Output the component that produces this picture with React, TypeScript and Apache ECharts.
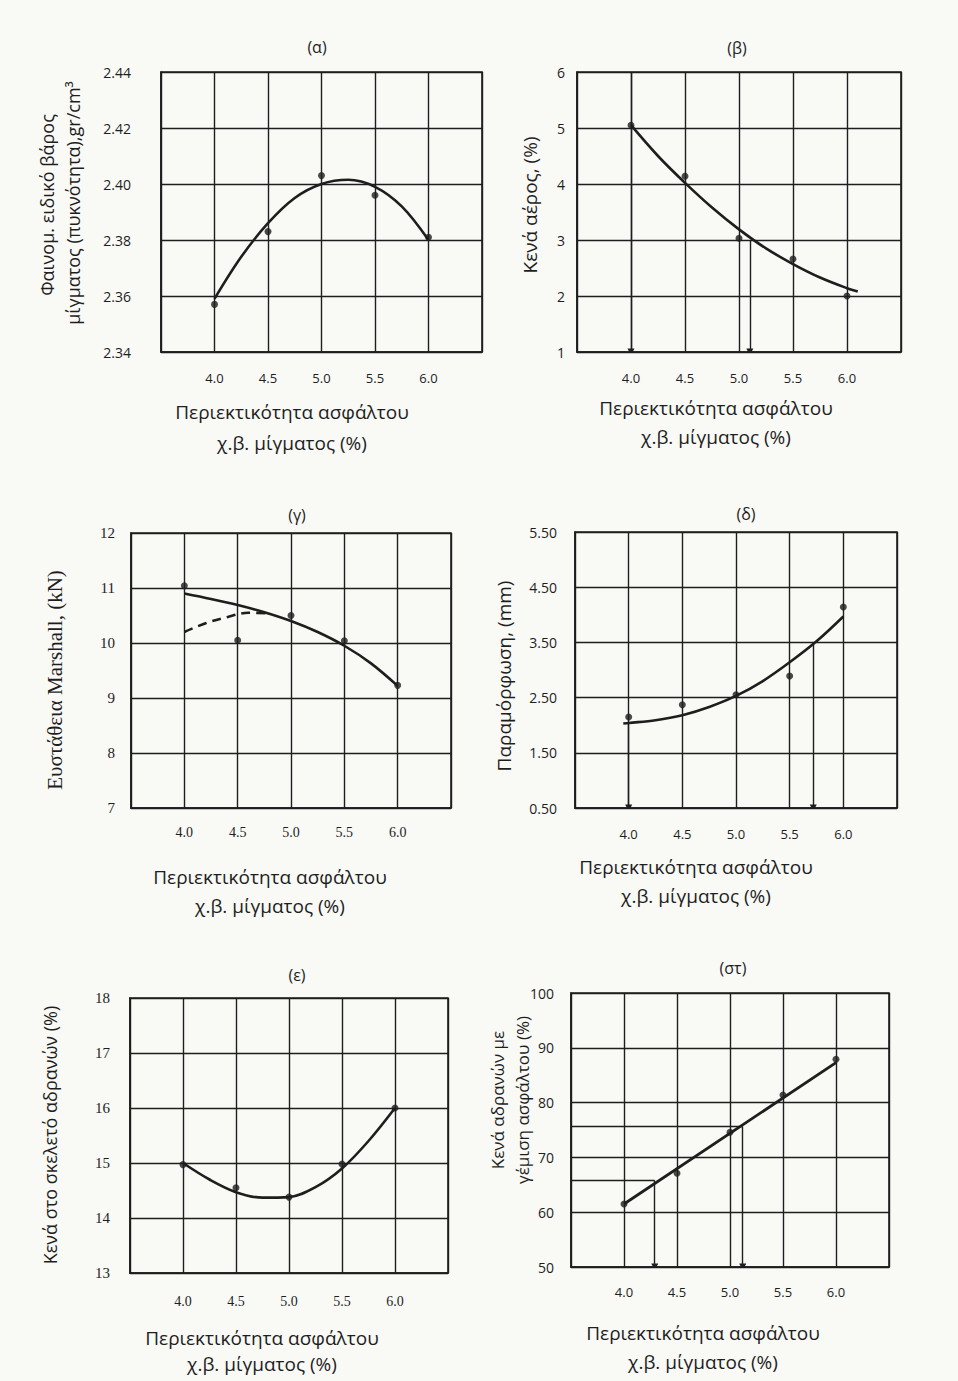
import React, { useEffect, useRef } from "react";
import * as echarts from "echarts";

// ---------- data ----------
const asphaltContent = [4.0, 4.5, 5.0, 5.5, 6.0];

// (α) bulk specific gravity
const densityMeasured = [2.357, 2.383, 2.403, 2.396, 2.381];
const densityCurveX = [4.0, 4.25, 4.5, 4.75, 5.0, 5.25, 5.5, 5.75, 6.0];
const densityCurveY = [2.359, 2.374, 2.386, 2.395, 2.4, 2.4015, 2.399, 2.392, 2.38];

// (β) air voids
const airVoidsMeasured = [5.05, 4.14, 3.03, 2.66, 2.0];
const airVoidsCurveX = [4.0, 4.25, 4.5, 4.75, 5.0, 5.25, 5.5, 5.75, 6.0, 6.1];
const airVoidsCurveY = [5.05, 4.5, 4.02, 3.58, 3.19, 2.85, 2.57, 2.33, 2.14, 2.08];
const airVoidsArrows = [
  [4.0, 6.0, 4.0, 1.0],
  [5.1, 3.0, 5.1, 1.0],
];

// (γ) Marshall stability
const stabilityMeasured = [11.04, 10.05, 10.5, 10.04, 9.23];
const stabilityCurveX = [4.0, 4.25, 4.5, 4.75, 5.0, 5.25, 5.5, 5.75, 6.0];
const stabilityCurveY = [10.9, 10.8, 10.69, 10.56, 10.4, 10.2, 9.95, 9.63, 9.22];
const stabilityDashedX = [4.0, 4.2, 4.4, 4.6, 4.8];
const stabilityDashedY = [10.2, 10.36, 10.47, 10.55, 10.54];

// (δ) flow
const flowMeasured = [2.15, 2.37, 2.55, 2.89, 4.14];
const flowCurveX = [3.95, 4.0, 4.25, 4.5, 4.75, 5.0, 5.25, 5.5, 5.75, 6.0];
const flowCurveY = [2.03, 2.04, 2.09, 2.18, 2.33, 2.53, 2.8, 3.14, 3.52, 3.97];
const flowArrows = [
  [4.0, 2.04, 4.0, 0.5],
  [5.72, 3.5, 5.72, 0.5],
];

// (ε) VMA
const vmaMeasured = [14.97, 14.55, 14.38, 14.98, 16.0];
const vmaCurveX = [4.0, 4.25, 4.5, 4.75, 5.0, 5.25, 5.5, 5.75, 6.0];
const vmaCurveY = [15.0, 14.7, 14.47, 14.37, 14.38, 14.56, 14.9, 15.4, 16.0];

// (στ) VFA
const vfaMeasured = [61.5, 67.1, 74.6, 81.4, 87.9];
const vfaLineX = [4.0, 6.0];
const vfaLineY = [61.5, 87.3];
const vfaArrows = [
  [4.29, 65.8, 4.29, 50],
  [5.12, 75.6, 5.12, 50],
];
const vfaGuides = [
  [3.5, 65.8, 4.29, 65.8],
  [3.5, 75.6, 5.12, 75.6],
];

// y axes
const yRanges = [
  { min: 2.34, max: 2.44, interval: 0.02, dec: 2 },
  { min: 1, max: 6, interval: 1, dec: 0 },
  { min: 7, max: 12, interval: 1, dec: 0 },
  { min: 0.5, max: 5.5, interval: 0.5, dec: 2 },
  { min: 13, max: 18, interval: 1, dec: 0 },
  { min: 50, max: 100, interval: 10, dec: 0 },
];

const titles = ["(α)", "(β)", "(γ)", "(δ)", "(ε)", "(στ)"];
const xName1 = "Περιεκτικότητα ασφάλτου";
const xName2 = "χ.β. μίγματος (%)";

// ---------- layout ----------
const INK = "#1e1e1e";
const SANS = "'Open Sans', 'Noto Sans', sans-serif";
const SERIF = "'Liberation Serif', 'DejaVu Serif', serif";

const grids = [
  { left: 161, top: 72, width: 321, height: 280 },
  { left: 577, top: 72, width: 324, height: 280 },
  { left: 131, top: 533, width: 320, height: 275 },
  { left: 575, top: 532, width: 322, height: 276 },
  { left: 130, top: 998, width: 318, height: 275 },
  { left: 571, top: 993, width: 318, height: 274 },
];
const tickFonts = [SANS, SANS, SERIF, SANS, SERIF, SANS];
const tickSizes = [13, 13, 14, 13, 14, 13];
const yLabelMargins = [30, 12, 16, 18, 20, 17];
const xLabelMargins = [19, 19, 17, 19, 21, 18];

const zip = (xs: number[], ys: number[]) => xs.map((x, i) => [x, ys[i]]);

function App() {
  const ref = useRef<HTMLDivElement>(null);
  useEffect(() => {
    if (!ref.current) return;
    const chart = echarts.init(ref.current, null, { renderer: "svg" });

    const xAxes = grids.map((_, i) => ({
      type: "value",
      gridIndex: i,
      min: 3.5,
      max: 6.5,
      interval: 0.5,
      axisLine: { show: true, lineStyle: { color: INK, width: 1.6 } },
      axisTick: { show: false },
      splitLine: { show: true, lineStyle: { color: INK, width: 1.4 } },
      axisLabel: {
        margin: xLabelMargins[i],
        fontFamily: tickFonts[i],
        fontSize: tickSizes[i],
        color: INK,
        formatter: (v: number) =>
          asphaltContent.some((a) => Math.abs(a - v) < 1e-6) ? v.toFixed(1) : "",
      },
    }));

    const yAxes = yRanges.map((r, i) => ({
      type: "value",
      gridIndex: i,
      min: r.min,
      max: r.max,
      interval: r.interval,
      axisLine: { show: true, lineStyle: { color: INK, width: 1.6 } },
      axisTick: { show: false },
      splitLine: {
        show: true,
        lineStyle: {
          color: i === 3 ? [INK, "rgba(0,0,0,0)"] : INK,
          width: 1.4,
        },
      },
      axisLabel: {
        margin: yLabelMargins[i],
        fontFamily: tickFonts[i],
        fontSize: tickSizes[i] + 1,
        color: INK,
        formatter: (v: number) => {
          if (i === 3) {
            const f = v - Math.floor(v);
            return Math.abs(f - 0.5) < 1e-6 ? v.toFixed(2) : "";
          }
          return v.toFixed(r.dec);
        },
      },
    }));

    const curve = (idx: number, data: number[][], dashed = false) => ({
      type: "line",
      xAxisIndex: idx,
      yAxisIndex: idx,
      data,
      smooth: 0.35,
      showSymbol: false,
      symbol: "none",
      lineStyle: { color: INK, width: 2.6, type: dashed ? [9, 6] : "solid" },
      z: 5,
    });
    const points = (idx: number, ys: number[]) => ({
      type: "scatter",
      xAxisIndex: idx,
      yAxisIndex: idx,
      data: zip(asphaltContent, ys),
      symbolSize: 7,
      itemStyle: { color: INK },
      z: 6,
    });
    const segs = (idx: number, list: number[][], arrow: boolean) => ({
      type: "lines",
      coordinateSystem: "cartesian2d",
      xAxisIndex: idx,
      yAxisIndex: idx,
      symbol: arrow ? ["none", "triangle"] : ["none", "none"],
      symbolSize: arrow ? 7 : 0,
      lineStyle: { color: INK, width: 1.4, opacity: 1, curveness: 0 },
      data: list.map((s) => ({ coords: [[s[0], s[1]], [s[2], s[3]]] })),
      z: 4,
    });

    const series: any[] = [
      curve(0, zip(densityCurveX, densityCurveY)),
      points(0, densityMeasured),
      curve(1, zip(airVoidsCurveX, airVoidsCurveY)),
      points(1, airVoidsMeasured),
      segs(1, airVoidsArrows, true),
      curve(2, zip(stabilityCurveX, stabilityCurveY)),
      curve(2, zip(stabilityDashedX, stabilityDashedY), true),
      points(2, stabilityMeasured),
      curve(3, zip(flowCurveX, flowCurveY)),
      points(3, flowMeasured),
      segs(3, flowArrows, true),
      curve(4, zip(vmaCurveX, vmaCurveY)),
      points(4, vmaMeasured),
      {
        type: "line",
        xAxisIndex: 5,
        yAxisIndex: 5,
        data: zip(vfaLineX, vfaLineY),
        showSymbol: false,
        symbol: "none",
        lineStyle: { color: INK, width: 2.8 },
        z: 5,
      },
      points(5, vfaMeasured),
      segs(5, vfaArrows, true),
      segs(5, vfaGuides, false),
    ];

    const txt = (
      x: number,
      y: number,
      text: string,
      size: number,
      font: string,
      rotate = false
    ) => ({
      type: "text",
      x,
      y,
      rotation: rotate ? Math.PI / 2 : 0,
      style: {
        text,
        fill: INK,
        fontSize: size,
        fontFamily: font,
        align: "center",
        verticalAlign: "middle",
      },
    });

    const titlePos = [
      [317, 47],
      [737, 48],
      [297, 515],
      [746, 514],
      [297, 975],
      [733, 968],
    ];
    const xNamePos = [
      [292, 412, 443],
      [716, 408, 437],
      [270, 877, 906],
      [696, 867, 896],
      [262, 1338, 1364],
      [703, 1333, 1362],
    ];

    const graphic: any[] = [];
    titles.forEach((t, i) =>
      graphic.push(txt(titlePos[i][0], titlePos[i][1], t, 16, SANS))
    );
    xNamePos.forEach((p) => {
      graphic.push(txt(p[0], p[1], xName1, 19, SANS));
      graphic.push(txt(p[0], p[2], xName2, 19, SANS));
    });
    // y names (rotated, reading bottom to top)
    graphic.push(txt(47, 205, "Φαινομ. ειδικό βάρος", 18, SANS, true));
    graphic.push(txt(73, 203, "μίγματος (πυκνότητα),gr/cm³", 18, SANS, true));
    graphic.push(txt(530, 205, "Κενά αέρος, (%)", 19, SANS, true));
    graphic.push(txt(55, 680, "Ευστάθεια Marshall, (kN)", 21, SERIF, true));
    graphic.push(txt(504, 676, "Παραμόρφωση, (mm)", 19, SANS, true));
    graphic.push(txt(50, 1135, "Κενά στο σκελετό αδρανών (%)", 18, SANS, true));
    graphic.push(txt(497, 1100, "Κενά αδρανών με", 17, SANS, true));
    graphic.push(txt(522, 1100, "γέμιση ασφάλτου (%)", 17, SANS, true));

    chart.setOption({
      animation: false,
      backgroundColor: "#f9f9f6",
      grid: grids.map((g) => ({
        ...g,
        show: true,
        borderColor: INK,
        borderWidth: 1.6,
        backgroundColor: "transparent",
      })),
      xAxis: xAxes,
      yAxis: yAxes,
      series,
      graphic,
    } as any);

    return () => chart.dispose();
  }, []);

  return (
    <div
      ref={ref}
      style={{ position: "absolute", left: 0, top: 0, width: 958, height: 1381 }}
    />
  );
}

export default App;
